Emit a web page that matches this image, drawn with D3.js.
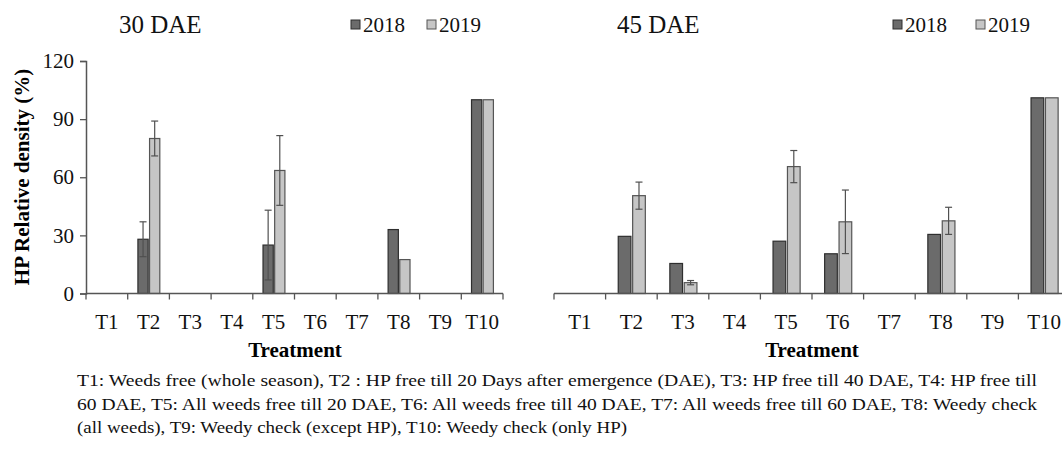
<!DOCTYPE html>
<html>
<head>
<meta charset="utf-8">
<script src="https://cdn.jsdelivr.net/npm/d3@7"></script>
<style>
  body { margin: 0; background: #fff; }
  svg text { font-family: 'Liberation Serif', 'DejaVu Serif', serif; }
</style>
</head>
<body>
<svg id="chart" width="1062" height="454"></svg>
<script>
var treatments = ["T1", "T2", "T3", "T4", "T5", "T6", "T7", "T8", "T9", "T10"];
var years = ["2018", "2019"];
var yTicks = [0, 30, 60, 90, 120];

// 30 DAE
var dae30_2018 = [0, 28, 0, 0, 25, 0, 0, 33, 0, 100];
var dae30_2019 = [0, 80, 0, 0, 63.5, 0, 0, 17.5, 0, 100];
var dae30_err2018 = [0, 9, 0, 0, 18, 0, 0, 0, 0, 0];
var dae30_err2019 = [0, 9, 0, 0, 18, 0, 0, 0, 0, 0];

// 45 DAE
var dae45_2018 = [0, 29.5, 15.5, 0, 27, 20.5, 0, 30.5, 0, 101];
var dae45_2019 = [0, 50.5, 5.6, 0, 65.5, 37, 0, 37.5, 0, 101];
var dae45_err2018 = [0, 0, 0, 0, 0, 0, 0, 0, 0, 0];
var dae45_err2019 = [0, 7, 1.1, 0, 8.3, 16.4, 0, 7, 0, 0];

var footnote = [
  "T1: Weeds free (whole season), T2 :  HP free till 20 Days after emergence (DAE), T3:  HP free till 40 DAE, T4:  HP free till",
  "60 DAE, T5: All weeds free till 20 DAE, T6: All weeds free till 40 DAE, T7: All weeds free till 60 DAE, T8: Weedy check",
  "(all weeds), T9: Weedy check (except  HP), T10: Weedy check (only  HP)"
];
var footLen = [960, 960, 550];

var serif = "'Liberation Serif', 'DejaVu Serif', serif";
var fills = { "2018": "#6b6b6b", "2019": "#c6c6c6" };
var strokes = { "2018": "#2e2e2e", "2019": "#555" };

var svg = d3.select("#chart").attr("font-family", serif);

var y = d3.scaleLinear().domain([0, 120]).range([293.5, 61]);

function drawPanel(opt) {
  var g = svg.append("g");
  var x = d3.scaleBand().domain(treatments).range([opt.x0, opt.x1]);
  var bw = x.bandwidth();
  var inner = d3.scaleBand().domain(years)
    .range([0.245 * bw, 0.77 * bw]).paddingInner(0.12);

  var rows = treatments.map(function(t, i) {
    return { t: t, vals: [
      { year: "2018", v: opt.v2018[i], e: opt.e2018[i] },
      { year: "2019", v: opt.v2019[i], e: opt.e2019[i] }
    ]};
  });

  var grp = g.selectAll(".tr").data(rows).enter().append("g")
    .attr("transform", function(d) { return "translate(" + x(d.t) + ",0)"; });

  grp.selectAll("rect").data(function(d) { return d.vals.filter(function(v) { return v.v > 0; }); })
    .enter().append("rect")
    .attr("x", function(d) { return inner(d.year); })
    .attr("width", inner.bandwidth())
    .attr("y", function(d) { return y(d.v); })
    .attr("height", function(d) { return y(0) - y(d.v); })
    .attr("fill", function(d) { return fills[d.year]; })
    .attr("stroke", function(d) { return strokes[d.year]; })
    .attr("stroke-width", 1.2);

  var errs = grp.selectAll(".err").data(function(d) { return d.vals.filter(function(v) { return v.e > 0; }); })
    .enter().append("g").attr("class", "err")
    .attr("stroke", "#505050").attr("stroke-width", 1.2);
  errs.append("line")
    .attr("x1", function(d) { return inner(d.year) + inner.bandwidth() / 2; })
    .attr("x2", function(d) { return inner(d.year) + inner.bandwidth() / 2; })
    .attr("y1", function(d) { return y(d.v + d.e); })
    .attr("y2", function(d) { return y(d.v - d.e); });
  [1, -1].forEach(function(s) {
    errs.append("line")
      .attr("x1", function(d) { return inner(d.year) + inner.bandwidth() / 2 - 3.5; })
      .attr("x2", function(d) { return inner(d.year) + inner.bandwidth() / 2 + 3.5; })
      .attr("y1", function(d) { return y(d.v + s * d.e); })
      .attr("y2", function(d) { return y(d.v + s * d.e); });
  });

  // x axis
  var xa = g.append("g").attr("transform", "translate(0," + y(0) + ")");
  xa.append("line").attr("x1", opt.x0).attr("x2", opt.x1)
    .attr("stroke", "#555").attr("stroke-width", 1.5);
  xa.selectAll(".tk").data(treatments.concat(["end"])).enter().append("line")
    .attr("x1", function(d, i) { return opt.x0 + i * bw; })
    .attr("x2", function(d, i) { return opt.x0 + i * bw; })
    .attr("y1", 0).attr("y2", 6)
    .attr("stroke", "#555").attr("stroke-width", 1.3);
  xa.selectAll(".lb").data(treatments).enter().append("text")
    .attr("x", function(d) { return x(d) + bw / 2; })
    .attr("y", 35)
    .attr("text-anchor", "middle")
    .attr("font-size", 21)
    .attr("fill", "#111")
    .text(function(d) { return d; });

  g.append("text")
    .attr("x", opt.titleX).attr("y", 357)
    .attr("text-anchor", "middle")
    .attr("font-size", 21).attr("font-weight", "bold")
    .text("Treatment");

  // panel title
  g.append("text").attr("x", opt.titleLeft).attr("y", 33)
    .attr("font-size", 25).attr("fill", "#111").text(opt.title);

  // legend
  years.forEach(function(yr, i) {
    var lx = opt.legX[i];
    g.append("rect").attr("x", lx).attr("y", 20).attr("width", 9).attr("height", 9)
      .attr("fill", fills[yr]).attr("stroke", strokes[yr]).attr("stroke-width", 1);
    g.append("text").attr("x", lx + 12).attr("y", 32)
      .attr("font-size", 21).attr("fill", "#111").text(yr);
  });

  if (opt.yAxis) {
    var ya = g.append("g").attr("transform", "translate(" + opt.x0 + ",0)")
      .call(d3.axisLeft(y).tickValues(yTicks).tickSize(6).tickPadding(6));
    ya.attr("font-family", serif);
    ya.select(".domain").attr("stroke", "#555").attr("stroke-width", 1.5);
    ya.selectAll(".tick line").attr("stroke", "#555").attr("stroke-width", 1.3);
    ya.selectAll(".tick text").attr("font-size", 21).attr("fill", "#111");
    g.append("text")
      .attr("transform", "translate(29," + 177 + ") rotate(-90)")
      .attr("text-anchor", "middle")
      .attr("font-size", 21).attr("font-weight", "bold")
      .text("HP Relative density (%)");
  }
}

drawPanel({
  x0: 86, x1: 503, v2018: dae30_2018, v2019: dae30_2019,
  e2018: dae30_err2018, e2019: dae30_err2019,
  title: "30 DAE", titleLeft: 119, legX: [351, 427], titleX: 295, yAxis: true
});

drawPanel({
  x0: 554, x1: 1070, v2018: dae45_2018, v2019: dae45_2019,
  e2018: dae45_err2018, e2019: dae45_err2019,
  title: "45 DAE", titleLeft: 617, legX: [893, 976], titleX: 812, yAxis: false
});

svg.selectAll(".fn").data(footnote).enter().append("text")
  .attr("x", 77)
  .attr("y", function(d, i) { return 386 + i * 23.5; })
  .attr("font-size", 17)
  .attr("fill", "#111")
  .attr("textLength", function(d, i) { return footLen[i]; })
  .attr("lengthAdjust", "spacingAndGlyphs")
  .text(function(d) { return d; });
</script>
</body>
</html>
